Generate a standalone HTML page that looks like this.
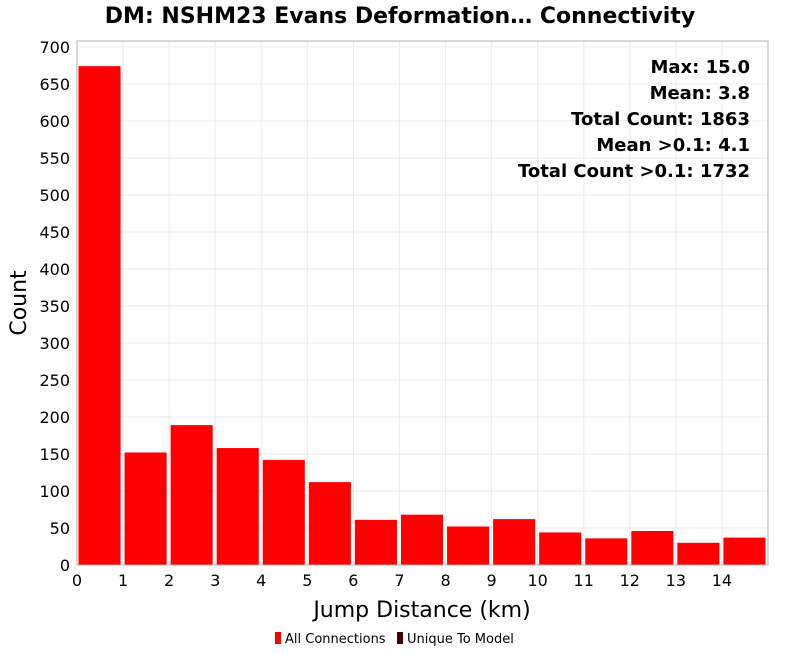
<!DOCTYPE html>
<html><head><meta charset="utf-8"><style>
body{margin:0;background:#fff;font-family:"DejaVu Sans","Liberation Sans",sans-serif;}
svg text{font-family:"DejaVu Sans","Liberation Sans",sans-serif;}
</style></head><body>
<svg id="chart" width="800" height="650">
<text x="400" y="23" text-anchor="middle" font-size="22" font-weight="bold">DM: NSHM23 Evans Deformation… Connectivity</text>
<g id="grid"></g>
<g id="bars"></g>
<rect x="77" y="41" width="691" height="524" fill="none" stroke="#b0b0b0"/>
<g id="yticks"></g>
<g id="xticks"></g>
<text x="26" y="303" transform="rotate(-90 26 303)" text-anchor="middle" font-size="22">Count</text>
<text x="422" y="617" text-anchor="middle" font-size="22">Jump Distance (km)</text>
<g font-size="18" font-weight="bold" text-anchor="end">
<text x="750" y="73">Max: 15.0</text>
<text x="750" y="99">Mean: 3.8</text>
<text x="750" y="125">Total Count: 1863</text>
<text x="750" y="151">Mean &gt;0.1: 4.1</text>
<text x="750" y="177">Total Count &gt;0.1: 1732</text>
</g>
<g>
<rect x="275" y="632" width="6" height="12" fill="#ff0000"/>
<text x="285" y="643" font-size="13">All Connections</text>
<rect x="397" y="632" width="6" height="12" fill="#4a0000"/>
<text x="407" y="643" font-size="13">Unique To Model</text>
</g>
</svg>
<script>
const binStarts=[0,1,2,3,4,5,6,7,8,9,10,11,12,13,14];
const counts=[674,152,189,158,142,112,61,68,52,62,44,36,46,30,37];
const yTicks=[0,50,100,150,200,250,300,350,400,450,500,550,600,650,700];
const xTicks=[0,1,2,3,4,5,6,7,8,9,10,11,12,13,14];
const NS="http://www.w3.org/2000/svg";
const X0=77,X1=768,XMAX=15,Y0=565,YTOP=41,YMAX=708;
const xs=v=>X0+v*(X1-X0)/XMAX;
const ys=v=>Y0-v*(Y0-YTOP)/YMAX;
const grid=document.getElementById('grid'),bars=document.getElementById('bars');
const yt=document.getElementById('yticks'),xt=document.getElementById('xticks');
function mk(t,a,p){const e=document.createElementNS(NS,t);for(const k in a)e.setAttribute(k,a[k]);p.appendChild(e);return e;}
yTicks.forEach(v=>{
 const l=mk('line',{x1:X0,x2:X1,y1:ys(v),y2:ys(v),stroke:'#ebebeb'},grid);
 
 
 const t=mk('text',{x:X0-7,y:ys(v)+6,'text-anchor':'end','font-size':'16'},yt);
 t.textContent=v;
 
 
});
xTicks.forEach(v=>{
 const l=mk('line',{x1:xs(v),x2:xs(v),y1:YTOP,y2:Y0,stroke:'#ebebeb'},grid);
 
 
 const t=mk('text',{x:xs(v),y:Y0+21,'text-anchor':'middle','font-size':'16'},xt);
 t.textContent=v;
 
 
});
binStarts.forEach((b,i)=>{
 const x=xs(b)+1.5,w=xs(b+1)-xs(b)-4;
 const r=mk('rect',{x:x,y:ys(counts[i]),width:w,height:Y0-ys(counts[i]),fill:'#ff0000'},bars);
 
 
});
</script>
</body></html>
